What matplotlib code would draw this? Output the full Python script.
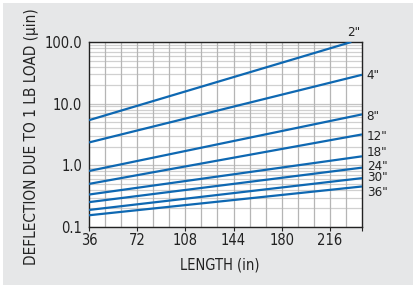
import matplotlib
matplotlib.use("Agg")
import matplotlib.pyplot as plt
from matplotlib.patches import Rectangle
from matplotlib.ticker import FixedLocator, NullFormatter, LogLocator

plt.rcParams['font.family'] = ['Liberation Sans Narrow', 'DejaVu Sans']
plt.rcParams['font.stretch'] = 'condensed'

# Data
sizes = ['2"', '4"', '8"', '12"', '18"', '24"', '30"', '36"']
x_start = [36, 36, 36, 36, 36, 36, 36, 36]
x_end = [232, 240, 240, 240, 240, 240, 240, 240]
y_start = [5.4, 2.35, 0.81, 0.50, 0.336, 0.253, 0.189, 0.155]
y_end = [100.0, 29.4, 6.7, 3.17, 1.40, 0.917, 0.62, 0.454]
x_ticks = [36, 72, 108, 144, 180, 216]
y_ticks = [0.1, 1.0, 10.0, 100.0]
y_ticklabels = ['0.1', '1.0', '10.0', '100.0']

W, H = 420, 290
fig = plt.figure(figsize=(W / 100, H / 100), dpi=100)
fig.patch.set_facecolor('white')
fig.patches.append(Rectangle((3 / W, 5 / H), 410 / W, 282 / H, transform=fig.transFigure,
                             facecolor='#e6e7e8', edgecolor='none', zorder=-10))

ax = fig.add_axes([89 / W, 1 - 227 / H, (362 - 89) / W, (227 - 42) / H])
ax.set_facecolor('white')
ax.set_yscale('log')
ax.set_xlim(36, 240)
ax.set_ylim(0.1, 100)

color = '#0e68b2'
for name, xs, xe, ys, ye in zip(sizes, x_start, x_end, y_start, y_end):
    ax.plot([xs, xe], [ys, ye], color=color, lw=1.6, solid_capstyle='butt', zorder=3, clip_on=True)

# Labels (positions only)
label_pos = {
    '2"': (229, 145), '4"': (243.5, 28.1), '8"': (243.5, 6.2), '12"': (243.5, 2.99),
    '18"': (243.5, 1.61), '24"': (243.5, 0.97), '30"': (243.5, 0.63), '36"': (243.5, 0.36),
}
for name in sizes:
    x, y = label_pos[name]
    ax.text(x, y, name, fontsize=9.5, color='#222222', ha='left', va='center', clip_on=False)

# Grid
ax.xaxis.set_major_locator(FixedLocator(x_ticks + [240]))
ax.set_xticklabels([str(t) for t in x_ticks] + [''])
for v in range(48, 240, 12):
    ax.axvline(v, color='#b5b5b5', lw=0.9, zorder=1)
ax.yaxis.set_major_locator(FixedLocator(y_ticks))
ax.set_yticklabels(y_ticklabels)
ax.yaxis.set_minor_locator(LogLocator(base=10, subs=range(2, 10)))
ax.yaxis.set_minor_formatter(NullFormatter())
ax.grid(True, which='major', axis='y', color='#c4c4c4', lw=0.9, zorder=1)
ax.grid(True, which='minor', axis='y', color='#d0d0d0', lw=0.9, zorder=1)
ax.set_axisbelow(True)

ax.tick_params(axis='x', direction='out', length=3, width=0.8, labelsize=10.5, pad=1, colors='#222222')
ax.tick_params(axis='y', which='both', length=0, labelsize=10.5, pad=5, colors='#222222')
for s in ax.spines.values():
    s.set_color('#222222')
    s.set_linewidth(1.0)

fig.text(220 / W, 1 - 265 / H, 'LENGTH (in)', ha='center', va='center', fontsize=10.5, color='#222222')
fig.text(32 / W, 1 - 137 / H, 'DEFLECTION DUE TO 1 LB LOAD (\u03bcin)', ha='center', va='center',
         rotation=90, fontsize=11, color='#222222')

fig.savefig('out.png', dpi=100, facecolor=fig.get_facecolor())
